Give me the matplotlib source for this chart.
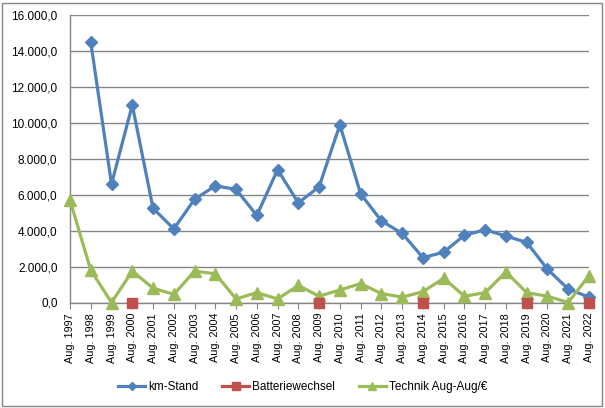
import numpy as np
import matplotlib
matplotlib.use("Agg")
import matplotlib.pyplot as plt
from matplotlib.ticker import FuncFormatter
from matplotlib.patches import Rectangle
from matplotlib.lines import Line2D

plt.rcParams['font.family'] = ['Liberation Sans', 'DejaVu Sans']

years = list(range(1997, 2023))
labels = [f"Aug. {y}" for y in years]
km_stand = [np.nan, 14500, 6600, 11000, 5250, 4100, 5750, 6500, 6300, 4850,
            7400, 5550, 6450, 9900, 6050, 4550, 3850, 2500, 2800, 3750,
            4050, 3700, 3350, 1850, 750, 300]
batterie = [np.nan, np.nan, np.nan, 0, np.nan, np.nan, np.nan, np.nan, np.nan, np.nan,
            np.nan, np.nan, 0, np.nan, np.nan, np.nan, np.nan, 0, np.nan, np.nan,
            np.nan, np.nan, 0, np.nan, np.nan, 0]
technik = [5700, 1800, 0, 1750, 800, 450, 1750, 1600, 200, 550,
           200, 950, 350, 700, 1050, 500, 300, 600, 1350, 350,
           550, 1700, 550, 350, 0, 1500]

blue = '#4F81BD'
red = '#C0504D'
green = '#9BBB59'
grid = '#868686'

fig = plt.figure(figsize=(6.05, 4.08), dpi=100)
ax = fig.add_axes([70/605, 1-302.5/408, (589-70)/605, (302.5-15.3)/408])

x = np.arange(len(years))
ax.plot(x, km_stand, color=blue, lw=2.3, marker='D', ms=6, label='km-Stand', clip_on=False, zorder=3)
ax.plot(x, batterie, color=red, lw=2.3, marker='s', ms=7.5, ls='none', label='Batteriewechsel', clip_on=False, zorder=4)
ax.plot(x, technik, color=green, lw=2.3, marker='^', ms=8, label='Technik Aug-Aug/€', clip_on=False, zorder=3)

ax.set_xlim(0, len(years)-1)
ax.set_ylim(0, 16000)
ax.set_yticks(np.arange(0, 16001, 2000))
def fmt(v, p):
    s = f"{v:,.1f}"
    return s.replace(',', 'X').replace('.', ',').replace('X', '.')
ax.yaxis.set_major_formatter(FuncFormatter(fmt))
ax.set_xticks(x)
ax.set_xticklabels(labels, rotation=90, fontsize=7.8)
ax.tick_params(axis='y', labelsize=8.5, length=0, pad=9)
ax.tick_params(axis='x', length=4, color=grid, pad=3.5)
ax.grid(axis='y', color=grid, lw=1)
ax.set_axisbelow(True)
for s in ['top', 'right']:
    ax.spines[s].set_visible(False)
for s in ['left', 'bottom']:
    ax.spines[s].set_color(grid)
    ax.spines[s].set_linewidth(1)

h = [Line2D([], [], color=blue, lw=2.3, marker='D', ms=4),
     Line2D([], [], color=red, lw=2.3, marker='s', ms=6),
     Line2D([], [], color=green, lw=2.3, marker='^', ms=6)]
fig.legend(h, ['km-Stand', 'Batteriewechsel', 'Technik Aug-Aug/€'], loc='center',
           bbox_to_anchor=(0.5, 1-387/408), ncol=3, frameon=False, fontsize=8.5,
           handlelength=2.3, columnspacing=2.0, handletextpad=0.25)

fig.patches.append(Rectangle((2/605, 2/408), 600/605, 403/408, transform=fig.transFigure,
                             fill=False, edgecolor=grid, lw=1))

fig.savefig('out.png', dpi=100)
